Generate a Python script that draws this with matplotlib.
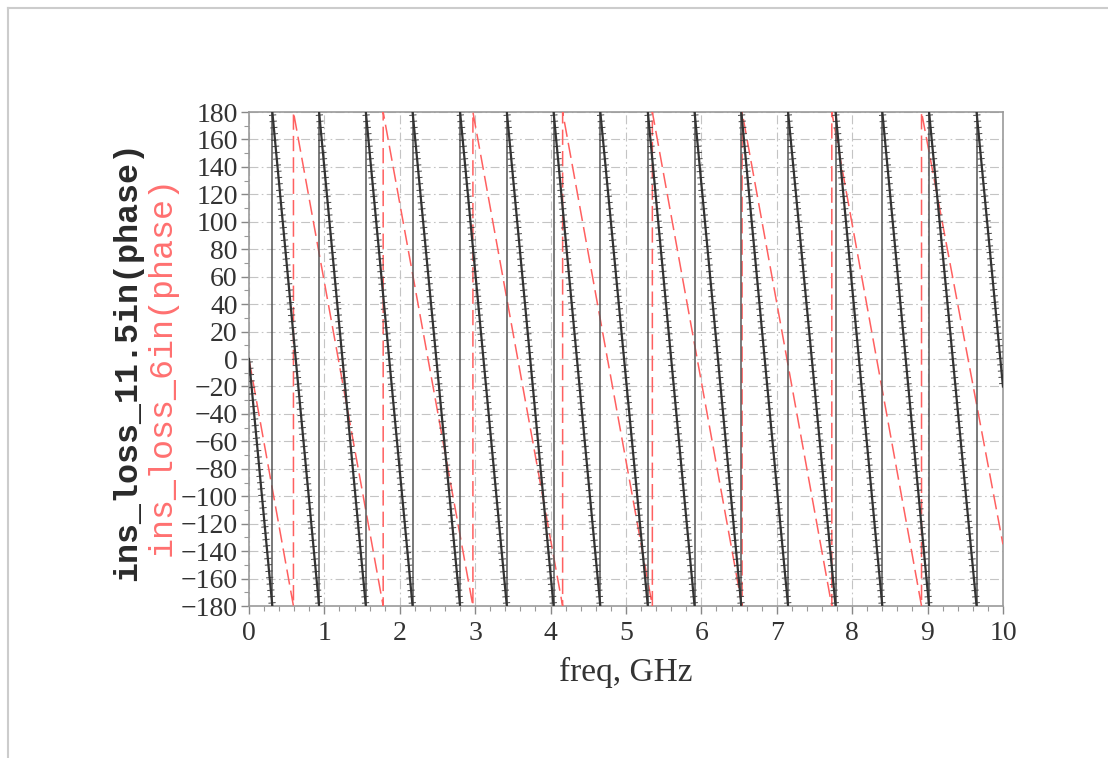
import numpy as np
import matplotlib.pyplot as plt
import matplotlib.patheffects as pe
from matplotlib.lines import Line2D

# wrapped insertion-loss phase, frequency in GHz, phase in degrees
freq_start = 0.0
freq_stop = 10.0

# 11.5 inch trace: phase 0 at DC, wraps from -180 to +180 at these frequencies
long_start_phase = 0.0
long_wraps = [0.31, 0.93, 1.55, 2.17, 2.80, 3.42, 4.04, 4.66,
              5.29, 5.91, 6.53, 7.15, 7.78, 8.40, 9.02, 9.65]
long_end_phase = -20.0

# 6 inch trace
short_start_phase = 0.0
short_wraps = [0.59, 1.78, 2.97, 4.16, 5.35, 6.54, 7.73, 8.92]
short_end_phase = -135.0

x_ticks = list(range(0, 11))
y_ticks = list(range(-180, 181, 20))


def ramps(start_phase, wraps, end_phase):
    """Falling parts of the wrapped phase, one (x, y) pair per ramp."""
    starts = [(freq_start, start_phase)] + [(w, 180) for w in wraps]
    ends = [(w, -180) for w in wraps] + [(freq_stop, end_phase)]
    return [([a[0], b[0]], [a[1], b[1]]) for a, b in zip(starts, ends)]


def full_path(start_phase, wraps, end_phase):
    xs, ys = [freq_start], [start_phase]
    for w in wraps:
        xs += [w, w]
        ys += [-180, 180]
    xs.append(freq_stop)
    ys.append(end_phase)
    return xs, ys


fig = plt.figure(figsize=(11.08, 7.58), dpi=100)
ax = fig.add_axes([0.2247, 0.2005, 0.6805, 0.6517])

# 6 inch trace, long red dashes including the wrap jumps
sx, sy = full_path(short_start_phase, short_wraps, short_end_phase)
ax.plot(sx, sy, color='#ff6060', lw=1.1, dashes=(10, 4), zorder=3)

# 11.5 inch trace: thin jumps plus marked ramps
ax.vlines(long_wraps, -180, 180, color='#555555', lw=1.1, zorder=4)
ticks = [pe.TickedStroke(spacing=4.5, angle=90, length=0.5, linewidth=0.7, foreground='#444444'),
         pe.TickedStroke(spacing=4.5, angle=-90, length=0.5, linewidth=0.7, foreground='#444444'),
         pe.Normal()]
for rx, ry in ramps(long_start_phase, long_wraps, long_end_phase):
    ax.plot(rx, ry, color='#333333', lw=1.6, zorder=5, path_effects=ticks)

ax.set_xlim(freq_start, freq_stop)
ax.set_ylim(-180, 180)
ax.set_xticks(x_ticks)
ax.set_yticks(y_ticks)
ax.set_xticks(np.arange(0, 10.01, 0.2), minor=True)
ax.set_yticks(np.arange(-180, 181, 10), minor=True)
ax.grid(True, which='major', color='#c4c4c4', lw=0.8, linestyle=(0, (8, 3, 1.5, 3)))

for s in ax.spines.values():
    s.set_color('#9a9a9a')
    s.set_linewidth(1.2)
ax.tick_params(which='major', direction='out', length=6, width=1, color='#888888',
               labelsize=20, labelcolor='#333333', pad=2)
ax.tick_params(axis='x', which='major', pad=5)
ax.tick_params(which='minor', direction='out', length=3.5, width=0.8, color='#999999')
for lab in ax.get_xticklabels() + ax.get_yticklabels():
    lab.set_family('Liberation Serif')

ax.set_xlabel('freq, GHz', family='Liberation Serif', fontsize=24, color='#333333', labelpad=8)

fig.text(0.1155, 0.524, 'ins_loss_11.5in(phase)', rotation=90, ha='center', va='center',
         family='Liberation Mono', fontweight='bold', fontsize=24, color='#2a2a2a')
fig.text(0.146, 0.517, 'ins_loss_6in(phase)', rotation=90, ha='center', va='center',
         family='Liberation Mono', fontsize=24, color='#ff7070')

# page border on the top and left edge
fig.add_artist(Line2D([0.0075, 1.0], [0.9895, 0.9895], transform=fig.transFigure,
                      color='#cccccc', lw=1.5))
fig.add_artist(Line2D([0.0075, 0.0075], [0.0, 0.9895], transform=fig.transFigure,
                      color='#cccccc', lw=1.5))

fig.savefig('out.png', dpi=100)
